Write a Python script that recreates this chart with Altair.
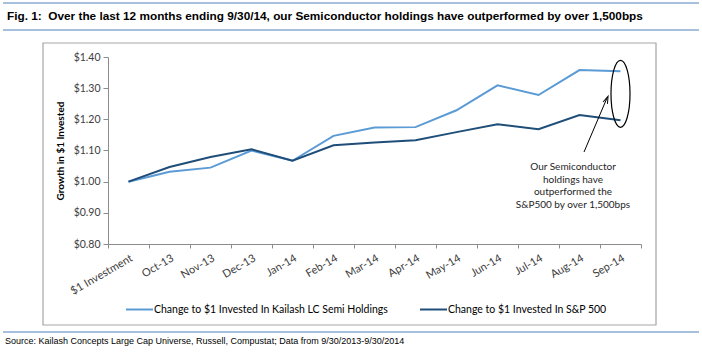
import altair as alt
import pandas as pd

categories = ["$1 Investment", "Oct-13", "Nov-13", "Dec-13", "Jan-14", "Feb-14", "Mar-14",
              "Apr-14", "May-14", "Jun-14", "Jul-14", "Aug-14", "Sep-14"]
semi = [1.00, 1.032, 1.045, 1.100, 1.067, 1.147, 1.174, 1.175, 1.229, 1.309, 1.278, 1.358, 1.354]
sp500 = [1.00, 1.047, 1.079, 1.104, 1.067, 1.117, 1.126, 1.133, 1.159, 1.184, 1.168, 1.214, 1.197]
series_names = ["Change to $1 Invested In Kailash LC Semi Holdings", "Change to $1 Invested In S&P 500"]
series_colors = ["#5B9BD5", "#1F4E79"]
y_ticks = [0.80, 0.90, 1.00, 1.10, 1.20, 1.30, 1.40]

title_text = "Fig. 1:\u00a0 Over the last 12 months ending 9/30/14, our Semiconductor holdings have outperformed by over 1,500bps"
source_text = "Source: Kailash Concepts Large Cap Universe, Russell, Compustat; Data from 9/30/2013-9/30/2014"
note_lines = ["Our Semiconductor", "holdings have", "outperformed the", "S&P500 by over 1,500bps"]
ellipse_at = {"month": "Sep-14", "value": 1.282}

rows = []
for name, vals in zip(series_names, [semi, sp500]):
    for c, v in zip(categories, vals):
        rows.append({"month": c, "value": v, "series": name})
df = pd.DataFrame(rows)
one = pd.DataFrame({"k": [0]})

FONT = "Lato"
BLUE = "#4F81BD"

x_enc = alt.X("month:N", sort=categories, bandPosition=0.5,
              scale=alt.Scale(type="band", paddingInner=0, paddingOuter=0),
              axis=alt.Axis(title=None, labelAngle=-30, labelAlign="right", labelBaseline="top",
                            labelFont=FONT, labelFontSize=11, labelColor="#404040",
                            labelOverlap=False,
                            tickBand="extent", tickSize=4, tickColor="#8C8C8C",
                            domainColor="#8C8C8C", labelPadding=4, grid=False))
y_enc = alt.Y("value:Q", scale=alt.Scale(domain=[0.8, 1.4], nice=False, zero=False),
              axis=alt.Axis(title="Growth in $1 Invested", values=y_ticks, format="$.2f",
                            titleFont=FONT, titleFontSize=10, titleFontWeight="bold", titleColor="#000000",
                            titlePadding=8, labelOverlap=False,
                            labelFont=FONT, labelFontSize=10.5, labelColor="#404040",
                            tickSize=5, tickColor="#8C8C8C", domainColor="#8C8C8C",
                            labelPadding=3, grid=False))

box = alt.Chart(one).mark_rect(fillOpacity=0, stroke="#A6A6A6", strokeWidth=1.2).encode(
    x=alt.value(-65), x2=alt.value(548), y=alt.value(-14), y2=alt.value(268))

rules = alt.Chart(pd.DataFrame({"yy": [-54, -27, 275]})).mark_rule(color=BLUE, strokeWidth=1.2).encode(
    x=alt.value(-105), x2=alt.value(591), y=alt.Y("yy:Q", scale=None))

lines = alt.Chart(df).mark_line(strokeWidth=2).encode(
    x=x_enc, y=y_enc,
    color=alt.Color("series:N", sort=series_names,
                    scale=alt.Scale(domain=series_names, range=series_colors),
                    legend=alt.Legend(title=None, orient="none", direction="horizontal",
                                      legendX=17, legendY=238, padding=0,
                                      symbolType="stroke", symbolSize=729, symbolStrokeWidth=2,
                                      labelFont=FONT, labelFontSize=10.5, labelColor="#000000",
                                      labelOffset=0, columnPadding=28, labelLimit=400)),
    order=alt.Order("series:N"))

ellipse = alt.Chart(pd.DataFrame([ellipse_at])).mark_point(
    shape="M0,-1A0.284,1 0 1,1 0,1A0.284,1 0 1,1 0,-1Z",
    size=4489, filled=False, stroke="#000000", strokeWidth=1.2, opacity=1).encode(
    x=x_enc, y=y_enc)

arrow = alt.Chart(one).mark_rule(color="#000000", strokeWidth=1).encode(
    x=alt.value(476), y=alt.value(95), x2=alt.value(499), y2=alt.value(41))
arrowhead = alt.Chart(one).mark_point(
    shape="M-0.6,0.8L0,-1L0.6,0.8", size=64, filled=False, stroke="#000000", strokeWidth=1,
    angle=23, opacity=1).encode(x=alt.value(498.5), y=alt.value(43))

note = alt.Chart(one).mark_text(font=FONT, fontSize=10, color="#262626", align="center",
                                baseline="middle", lineHeight=12.5).encode(
    x=alt.value(465), y=alt.value(110), text=alt.value(note_lines))

title = alt.Chart(one).mark_text(font="Liberation Sans", fontSize=11.8, fontWeight="bold",
                                 color="#000000", align="left", baseline="middle").encode(
    x=alt.value(-101), y=alt.value(-41), text=alt.value(title_text))

source = alt.Chart(one).mark_text(font="Liberation Sans", fontSize=9, color="#000000",
                                  align="left", baseline="middle").encode(
    x=alt.value(-103), y=alt.value(284), text=alt.value(source_text))

chart = alt.layer(box, rules, lines, ellipse, arrow, arrowhead, note, title, source).properties(
    width=533, height=187,
    autosize=alt.AutoSizeParams(type="none"),
    padding={"left": 108, "top": 57, "right": 61, "bottom": 110},
    background="#FFFFFF",
).configure_view(stroke="transparent")

chart.save("out.html", embed_options={"renderer": "svg", "actions": False})
